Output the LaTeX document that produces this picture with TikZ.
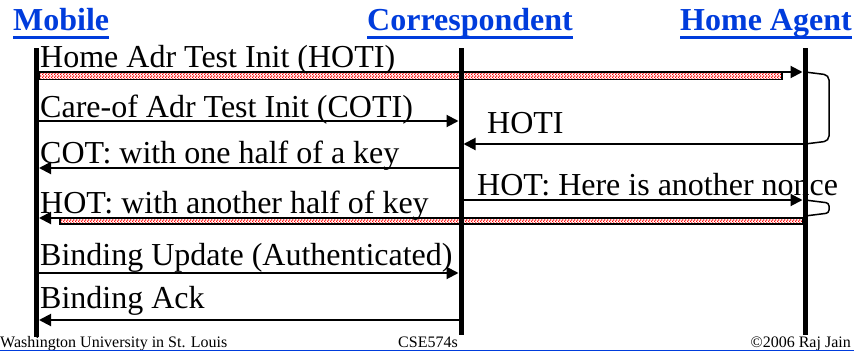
\documentclass[tikz,border=0pt]{standalone}
\usepackage{fontspec}
\setmainfont{Liberation Serif}
\usetikzlibrary{arrows.meta,patterns}
\definecolor{hdblue}{RGB}{0,60,220}
\def\msgfont{\fontsize{32}{36}\selectfont}
\def\footfont{\fontsize{16}{18}\selectfont}
\pgfdeclarepatternformonly{finecheck}{\pgfpointorigin}{\pgfqpoint{3pt}{3pt}}{\pgfqpoint{3pt}{3pt}}{
  \pgfpathrectangle{\pgfpointorigin}{\pgfqpoint{1.5pt}{1.5pt}}
  \pgfpathrectangle{\pgfqpoint{1.5pt}{1.5pt}}{\pgfqpoint{1.5pt}{1.5pt}}
  \pgfusepath{fill}
}
\tikzset{
  msg/.style={line width=2pt, -{Triangle[length=12pt,width=12pt]}, shorten >=2.5pt},
  lab/.style={anchor=base west, inner sep=0pt, font=\msgfont},
  head/.style={anchor=base west, inner sep=0pt, font=\msgfont\bfseries, text=hdblue},
  foot/.style={anchor=base west, inner sep=0pt, font=\footfont},
  band/.style={draw=black, line width=1.5pt, pattern=finecheck, pattern color=red},
  life/.style={line width=5pt},
  loopline/.style={line width=1.5pt},
}

\begin{document}
\begin{tikzpicture}[x=1pt,y=-1pt]
\useasboundingbox (0,0) rectangle (854,351);

% headers
\node[head] (mob) at (13,30) {Mobile};
\node[head] (cor) at (367,30) {Correspondent};
\node[head] (ha) at (680,30) {Home Agent};
\foreach \n in {mob, cor, ha}{
  \draw[hdblue, line width=3pt] ([yshift=-7pt]\n.base west) -- ([yshift=-7pt]\n.base east);
}

% lifelines
\coordinate (mobT) at (36.5,48);
\coordinate (mobB) at (36.5,337);
\coordinate (corT) at (461,48);
\coordinate (corB) at (461,335);
\coordinate (haT) at (805,48);
\coordinate (haB) at (805,335);

% rows
\coordinate (r1) at (0,72);
\coordinate (r2) at (0,121);
\coordinate (r3) at (0,144);
\coordinate (r4) at (0,168);
\coordinate (r5) at (0,200);
\coordinate (r6) at (0,218);
\coordinate (r7) at (0,273);
\coordinate (r8) at (0,320);

% tunnelled legs
\draw[band] (39,72) rectangle (782,79.5);
\draw[band] (60,218) rectangle (803,224);
\draw[loopline, rounded corners=5pt] (haT |- r1) -- (829,75) -- (829,141) -- (haT |- r3);
\draw[loopline, rounded corners=3pt] (haT |- r5) -- (829,203) -- (829,213) -- (haT |- 0,216);

% messages
\draw[msg] (mobT |- r1) -- (haT |- r1);
\draw[msg] (mobT |- r2) -- (corT |- r2);
\draw[msg] (haT |- r3) -- (corT |- r3);
\draw[msg] (corT |- r4) -- (mobT |- r4);
\draw[msg] (corT |- r5) -- (haT |- r5);
\draw[msg] (haT |- r6) -- (mobT |- r6);
\draw[msg] (mobT |- r7) -- (corT |- r7);
\draw[msg] (corT |- r8) -- (mobT |- r8);

\draw[life] (mobT) -- (mobB);
\draw[life] (corT) -- (corB);
\draw[life] (haT) -- (haB);

% labels
\node[lab] (t1) at (40,67) {Home Adr Test Init (HOTI)};
\node[lab] (t2) at (40,117) {Care-of Adr Test Init (COTI)};
\node[lab] (t3) at (487,133) {HOTI};
\node[lab] (t4) at (40,163) {COT: with one half of a key};
\node[lab] (t5) at (40,213) {HOT: with another half of key};
\node[lab] (t6) at (477,195) {HOT: Here is another nonce};
\node[lab] (t7) at (40,265) {Binding Update (Authenticated)};
\node[lab] (t8) at (40,308) {Binding Ack};

% footer
\node[foot] (f1) at (0,347) {Washington University in St. Louis};
\node[foot] (f2) at (398,347) {CSE574s};
\node[foot, anchor=base east] (f3) at (851,347) {\textcopyright2006 Raj Jain};
\draw[hdblue, line width=1pt] (0,350) -- (854,350);
\end{tikzpicture}
\end{document}
